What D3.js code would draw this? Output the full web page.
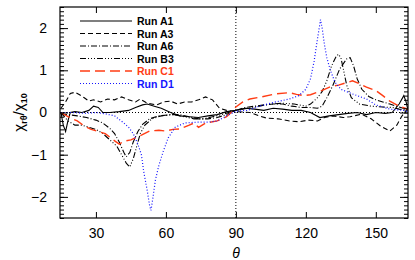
<!DOCTYPE html>
<html>
<head>
<meta charset="utf-8">
<script src="https://cdn.jsdelivr.net/npm/d3@7"></script>
<style>
body { margin: 0; background: #fff; }
text { font-family: "Liberation Sans", Arial, sans-serif; }
</style>
</head>
<body>
<div id="chart"></div>
<script>
const W = 415, H = 260;
const plot_l = 60, plot_r = 408, plot_t = 7, plot_b = 218;

// theta (deg) and chi_rtheta/chi_10
var a1_theta = [15,16,17,18,19,21,24,27,29,31,33,36,40,44,47,50,52,55,58,62,66,70,74,78,82,86,90,94,98,102,106,110,114,118,122,126,130,134,138,142,146,150,154,157,160,162,163,163.8];
var a1_chi   = [0,-0.3,-0.45,-0.2,0,0.02,0,0.05,0.15,0.12,0,0,0.02,0.05,0.12,0.18,0.2,0.15,0.1,0,-0.08,-0.1,-0.12,-0.08,-0.05,0.02,0.05,0.1,0.08,0.05,0.1,0.08,0.05,0.05,0,-0.12,-0.08,-0.05,-0.02,0,-0.05,0,-0.02,0,0.2,0.4,0.25,0.05];

var a3_theta = [15,17,19,21,23,25,27,29,32,35,38,41,44,47,49,52,56,59,62,65,68,71,74,77,80,83,86,90,96,100,103,108,113,117,121,125,128,132,136,139,144,148,152,156,159,161,163,163.8];
var a3_chi   = [0.1,0.25,0.45,0.48,0.42,0.35,0.27,0.3,0.25,0.32,0.3,0.37,0.3,0.25,0.32,0.22,0.18,0.25,0.27,0.2,0.25,0.25,0.3,0.37,0.3,0.1,0.05,0.02,0,-0.08,-0.13,-0.15,-0.2,-0.22,-0.18,-0.2,-0.12,-0.08,-0.12,-0.1,-0.04,-0.15,-0.32,-0.44,-0.3,-0.1,0.05,0.1];

var a6_theta = [15,18,22,26,30,33,36,38,40,42,43,44.5,46,48,50,53,57,62,66,70,74,78,82,86,90,94,98,102,106,110,114,118,122,125,127,129,131.5,134.5,137.5,139,140.5,142,144,147,150,153,156,160,163,163.8];
var a6_chi   = [-0.05,-0.05,-0.08,-0.12,-0.18,-0.25,-0.38,-0.5,-0.7,-0.95,-1.05,-0.95,-0.7,-0.45,-0.28,-0.15,-0.08,-0.05,-0.05,-0.1,-0.15,-0.15,-0.12,-0.05,0.05,0.12,0.15,0.18,0.2,0.2,0.15,0.12,0.12,0.1,0.15,0.35,0.63,1.03,1.27,1.3,1.1,0.8,0.55,0.38,0.3,0.25,0.2,0.13,0.08,0.05];

var b3_theta = [15,18,21,24,27,30,33,36,39,41,43,44.5,46,47.5,49,51,54,58,63,68,72,76,80,84,88,90,95,100,105,110,115,120,122,125,127,129,131,133,134,135,136,137.5,139.5,143,148,153,157,160,163,163.8];
var b3_chi   = [0,-0.2,-0.3,-0.3,-0.35,-0.4,-0.5,-0.65,-0.8,-1.0,-1.2,-1.29,-1.1,-0.8,-0.5,-0.3,-0.15,-0.08,-0.05,-0.1,-0.15,-0.15,-0.1,-0.05,0.02,0.05,0.1,0.15,0.2,0.22,0.2,0.15,0.2,0.35,0.5,0.75,1.1,1.33,1.38,1.3,1.05,0.65,0.35,0.2,0.15,0.13,0.12,0.08,0.05,0.03];

var c1_theta = [15,18,22,25,28,31,34,37,40,42,45,49,53,57,60,63,66,70,72,74,77,82,86,88,90,93,96,101,107,113,116,119,122,125,128,131,134,137,140,143,146,150,153,156,160,163.8];
var c1_chi   = [0,-0.1,-0.2,-0.32,-0.4,-0.45,-0.5,-0.63,-0.75,-0.68,-0.65,-0.55,-0.44,-0.42,-0.44,-0.4,-0.39,-0.3,-0.25,-0.35,-0.25,-0.2,-0.1,0,0.13,0.25,0.32,0.37,0.44,0.47,0.43,0.4,0.42,0.48,0.55,0.62,0.65,0.7,0.75,0.68,0.6,0.52,0.4,0.27,0.15,0.08];

var d1_theta = [15,20,25,30,34,38,42,44,46,48,49.5,50.5,52,53,53.6,54.5,55.5,57,59,61,64,68,73,78,82,86,90,95,100,107,113,117,120,122,123.5,125,126.3,127,128,129,130.5,132.5,135,140,146,150,156,162,163.8];
var d1_chi   = [0,0,-0.02,0,-0.03,-0.08,-0.25,-0.35,-0.5,-0.75,-1.0,-1.4,-1.85,-2.2,-2.32,-2.0,-1.6,-1.25,-0.9,-0.6,-0.35,-0.25,-0.23,-0.23,-0.2,-0.08,0.03,0.05,0.15,0.25,0.32,0.4,0.55,0.8,1.2,1.75,2.2,2.0,1.6,1.3,1.0,0.72,0.55,0.44,0.32,0.18,0.08,0.05,0.02];

var run_names = ["Run A1", "Run A3", "Run A6", "Run B3", "Run C1", "Run D1"];
var run_colors = ["#000000", "#000000", "#000000", "#000000", "#ff3c14", "#1414ff"];
var run_dashes = [null, "5,3", "6,2,1,2", "6,2,1,2,1,2,1,2", "10,5", "1,2"];
var run_widths = [1.1, 1.1, 1.1, 1.1, 1.4, 1.2];

var x_ticks = [30, 60, 90, 120, 150];
var y_ticks = [-2, -1, 0, 1, 2];

function zip(t, v) {
    var out = [];
    for (var i = 0; i < t.length; i++) out.push([t[i], v[i]]);
    return out;
}

var series = [zip(a1_theta, a1_chi), zip(a3_theta, a3_chi), zip(a6_theta, a6_chi),
              zip(b3_theta, b3_chi), zip(c1_theta, c1_chi), zip(d1_theta, d1_chi)];

var svg = d3.select("#chart").append("svg")
    .attr("width", W).attr("height", H);

var x = d3.scaleLinear().domain([14.6, 163.8]).range([plot_l, plot_r]);
var y = d3.scaleLinear().domain([-2.5, 2.5]).range([plot_b, plot_t]);

svg.append("clipPath").attr("id", "clip").append("rect")
    .attr("x", plot_l).attr("y", plot_t)
    .attr("width", plot_r - plot_l).attr("height", plot_b - plot_t);

// reference lines
svg.append("line")
    .attr("x1", x(90)).attr("x2", x(90)).attr("y1", plot_t).attr("y2", plot_b)
    .attr("stroke", "#000").attr("stroke-width", 1).attr("stroke-dasharray", "1,2");
svg.append("line")
    .attr("x1", plot_l).attr("x2", plot_r).attr("y1", y(0)).attr("y2", y(0))
    .attr("stroke", "#000").attr("stroke-width", 1).attr("stroke-dasharray", "1,2");

var line = d3.line().x(d => x(d[0])).y(d => y(d[1]));

svg.append("g").attr("clip-path", "url(#clip)")
    .selectAll("path.run")
    .data(series)
    .enter()
    .append("path")
    .attr("class", "run")
    .attr("d", line)
    .attr("fill", "none")
    .attr("stroke", (d, i) => run_colors[i])
    .attr("stroke-width", (d, i) => run_widths[i])
    .attr("stroke-dasharray", (d, i) => run_dashes[i]);

// axes, ticks drawn inward on all four sides
var yMinor = d3.range(-2.5, 2.51, 0.1).map(v => Math.round(v * 10) / 10);

svg.append("g").attr("transform", "translate(" + plot_l + ",0)")
    .call(d3.axisLeft(y).tickValues(y_ticks).tickSize(-8)
        .tickFormat(d => d < 0 ? "\u2212" + Math.abs(d) : d).tickPadding(13))
    .call(g => g.select(".domain").remove())
    .call(g => g.selectAll("text").attr("font-size", 14).attr("fill", "#000"));
svg.append("g").attr("transform", "translate(" + plot_l + ",0)")
    .call(d3.axisLeft(y).tickValues(yMinor).tickSize(-4).tickFormat(""))
    .call(g => g.select(".domain").remove());
svg.append("g").attr("transform", "translate(" + plot_r + ",0)")
    .call(d3.axisRight(y).tickValues(y_ticks).tickSize(-8).tickFormat(""))
    .call(g => g.select(".domain").remove());
svg.append("g").attr("transform", "translate(" + plot_r + ",0)")
    .call(d3.axisRight(y).tickValues(yMinor).tickSize(-4).tickFormat(""))
    .call(g => g.select(".domain").remove());

svg.append("g").attr("transform", "translate(0," + plot_b + ")")
    .call(d3.axisBottom(x).tickValues(x_ticks).tickSize(-6).tickPadding(10))
    .call(g => g.select(".domain").remove())
    .call(g => g.selectAll("text").attr("font-size", 14).attr("fill", "#000"));
svg.append("g").attr("transform", "translate(0," + plot_t + ")")
    .call(d3.axisTop(x).tickValues(x_ticks).tickSize(-6).tickFormat(""))
    .call(g => g.select(".domain").remove());

svg.selectAll(".tick line").attr("stroke", "#000").attr("stroke-width", 1);

svg.append("rect")
    .attr("x", plot_l).attr("y", plot_t)
    .attr("width", plot_r - plot_l).attr("height", plot_b - plot_t)
    .attr("fill", "none").attr("stroke", "#000").attr("stroke-width", 1.2);

// axis titles
svg.append("text")
    .attr("x", (plot_l + plot_r) / 2 + 2).attr("y", 258)
    .attr("text-anchor", "middle")
    .attr("font-size", 14).attr("font-style", "italic")
    .text("\u03b8");

var ylab = svg.append("text")
    .attr("transform", "translate(24," + (plot_t + plot_b) / 2 + ") rotate(-90)")
    .attr("text-anchor", "middle")
    .attr("font-size", 15);
ylab.append("tspan").text("\u03c7");
ylab.append("tspan").attr("font-size", 9).attr("dy", 3).attr("font-weight", "bold").text("r\u03b8");
ylab.append("tspan").attr("dy", -3).text("/\u03c7");
ylab.append("tspan").attr("font-size", 9).attr("dy", 3).attr("font-weight", "bold").text("10");

// legend
var legend = svg.selectAll("g.legend")
    .data(run_names)
    .enter()
    .append("g")
    .attr("class", "legend")
    .attr("transform", (d, i) => "translate(0," + (21 + i * 12.5) + ")");

legend.append("line")
    .attr("x1", 80).attr("x2", 132).attr("y1", 0).attr("y2", 0)
    .attr("stroke", (d, i) => run_colors[i])
    .attr("stroke-width", (d, i) => run_widths[i])
    .attr("stroke-dasharray", (d, i) => run_dashes[i]);

legend.append("text")
    .attr("x", 137).attr("y", 4)
    .attr("font-size", 10.5).attr("font-weight", "bold")
    .attr("fill", (d, i) => run_colors[i])
    .text(d => d);
</script>
</body>
</html>
